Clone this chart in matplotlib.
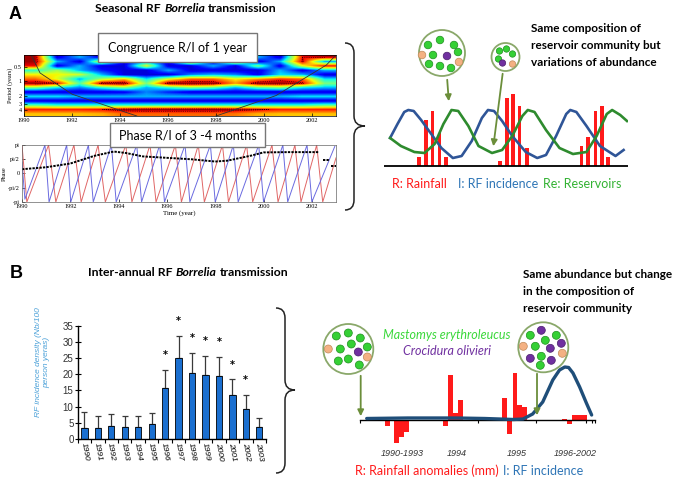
import numpy as np
import matplotlib
matplotlib.use('Agg')
import matplotlib.pyplot as plt
from matplotlib.path import Path
from matplotlib.patches import PathPatch, Circle, Rectangle, FancyArrowPatch

plt.rcParams['font.family'] = ['Lato', 'DejaVu Sans']

# ---- data (A, left): wavelet coherence, rows from short to long period
wavelet_log2_period = (-1.84, 2.43)
wavelet_power = [
    [0.97, 0.08, 0.30, 0.08, 0.62, 0.08, 0.30, 0.08, 0.30, 0.08, 0.30, 0.08, 0.90, 0.95],
    [0.97, 0.30, 0.08, 0.62, 0.08, 0.30, 0.08, 0.75, 0.08, 0.70, 0.08, 0.30, 0.92, 0.30],
    [0.90, 0.08, 0.30, 0.08, 0.08, 0.62, 0.08, 0.08, 0.30, 0.08, 0.50, 0.08, 0.62, 0.90],
    [0.40, 0.55, 0.30, 0.15, 0.08, 0.08, 0.30, 0.08, 0.08, 0.08, 0.08, 0.30, 0.08, 0.30],
    [0.65, 0.65, 0.60, 0.30, 0.08, 0.08, 0.08, 0.25, 0.30, 0.25, 0.10, 0.35, 0.30, 0.08],
    [0.80, 0.62, 0.30, 0.55, 0.70, 0.35, 0.62, 0.80, 0.80, 0.65, 0.75, 0.85, 0.80, 0.35],
    [0.98, 0.90, 0.45, 0.95, 0.97, 0.50, 0.97, 0.98, 0.97, 0.75, 0.97, 0.98, 0.92, 0.50],
    [0.50, 0.35, 0.25, 0.40, 0.50, 0.30, 0.40, 0.50, 0.45, 0.30, 0.45, 0.50, 0.35, 0.30],
    [0.08, 0.08, 0.08, 0.08, 0.10, 0.25, 0.15, 0.08, 0.08, 0.08, 0.08, 0.08, 0.08, 0.08],
    [0.35, 0.35, 0.30, 0.30, 0.30, 0.30, 0.30, 0.30, 0.30, 0.30, 0.30, 0.30, 0.35, 0.35],
    [0.08, 0.08, 0.08, 0.08, 0.08, 0.08, 0.08, 0.08, 0.08, 0.08, 0.08, 0.08, 0.08, 0.08],
    [0.45, 0.40, 0.40, 0.40, 0.40, 0.40, 0.40, 0.40, 0.40, 0.40, 0.40, 0.40, 0.40, 0.45],
    [0.88, 0.88, 0.88, 0.90, 0.95, 0.97, 0.97, 0.97, 0.97, 0.95, 0.92, 0.88, 0.88, 0.88],
    [0.70, 0.70, 0.70, 0.72, 0.80, 0.80, 0.80, 0.80, 0.80, 0.78, 0.72, 0.70, 0.70, 0.70],
]
cone_left_year = [1990.3, 1990.67, 1992.0, 1994.7]
cone_left_log2 = [-1.84, -0.58, 0.9, 2.43]
cone_right_year = [1998.0, 2000.5, 2002.6, 2003.0]
cone_right_log2 = [2.43, 1.0, -1.14, -1.84]

# phase of rainfall (red) and incidence (blue), in units of pi
red_turn_year = [1990.0, 1990.2, 1991.1, 1991.4, 1992.15, 1992.45, 1993.15, 1993.45,
                 1994.3, 1994.55, 1995.3, 1995.55, 1996.35, 1996.6, 1997.3, 1997.55,
                 1998.3, 1998.55, 1999.3, 1999.55, 2000.35, 2000.6, 2001.3, 2001.55,
                 2002.2, 2002.45, 2003.0]
red_turn_phase = [1, -1, 1, -1, 1, -1, 1, -1, 1, -1, 1, -1, 1, -1, 1, -1,
                  1, -1, 1, -1, 1, -1, 1, -1, 1, -1, 0.55]
blue_turn_year = [1990.0, 1990.12, 1990.95, 1991.12, 1991.85, 1992.02, 1992.75, 1992.95,
                  1993.7, 1993.9, 1994.75, 1994.95, 1995.7, 1995.9, 1996.75, 1996.95,
                  1997.8, 1998.0, 1998.75, 1998.95, 1999.8, 2000.0, 2000.8, 2001.0,
                  2001.8, 2002.0, 2002.95]
blue_turn_phase = [0.4, -0.9, 1, -1, 1, -1, 1, -1, 1, -1, 1, -1, 1, -1, 1, -1,
                   1, -1, 1, -1, 1, -1, 1, -1, 1, -1, 0.95]
diff_year = [1990.0, 1991.0, 1992.0, 1993.0, 1993.8, 1994.3, 1995.0, 1996.0,
             1997.0, 1998.0, 1998.5, 1999.5, 2000.0, 2001.0, 2002.3]
diff_phase = [0.15, 0.22, 0.35, 0.62, 0.77, 0.72, 0.6, 0.55, 0.5, 0.42, 0.45, 0.63,
              0.74, 0.75, 0.75]
diff_tail_year = [[2002.45, 2002.7], [2002.78, 2003.0]]
diff_tail_phase = [[0.49, 0.49], [0.28, 0.28]]

# ---- data (A, right): schematic seasonal cycle, x in months
incid_month = [0.9, 2.0, 3.0, 3.6, 4.4, 5.5, 7.0, 8.5, 10.2, 11.5, 13.0, 14.5, 15.4, 16.3,
               17.5, 19.0, 21.0, 22.7, 24.0, 25.5, 27.0, 27.6, 28.5, 30.0, 32.0, 34.3, 35.5]
incid_level = [28, 42, 54, 56, 55, 46, 32, 18, 8, 10, 25, 48, 56, 55,
               45, 30, 14, 8, 11, 30, 52, 56, 54, 40, 20, 10, 16]
reserv_month = [0.9, 2.5, 4.5, 6.0, 7.5, 8.8, 10.0, 11.0, 12.5, 14.0, 16.0, 17.5, 19.0,
                20.5, 21.3, 22.3, 24.0, 26.0, 28.0, 30.0, 31.5, 33.0, 33.8, 35.0, 36.0]
reserv_level = [28, 20, 14, 13, 22, 42, 56, 55, 40, 20, 13, 16, 30,
                50, 56, 54, 36, 18, 12, 14, 30, 52, 56, 51, 45]
rain_month = [5.2, 6.2, 7.2, 8.2, 9.2, 17.2, 18.2, 19.1, 20.1, 21.2,
              29.3, 30.2, 31.3, 32.3, 33.2]
rain_level = [9, 46, 55, 33, 9, 5, 68, 72, 60, 18, 20, 29, 55, 60, 9]

# ---- data (B, left): RF incidence density per year
years = [1990, 1991, 1992, 1993, 1994, 1995, 1996, 1997, 1998, 1999, 2000, 2001, 2002, 2003]
incidence = [3.5, 3.5, 4.0, 3.7, 3.7, 4.5, 15.7, 24.9, 20.3, 19.7, 19.5, 13.5, 9.3, 3.6]
incidence_err = [4.7, 3.7, 3.6, 3.3, 3.3, 3.5, 5.5, 7.0, 6.4, 6.0, 5.8, 4.9, 4.3, 3.0]
signif_years = [1996, 1997, 1998, 1999, 2000, 2001, 2002]

# ---- data (B, right): rainfall anomalies and incidence, x in months
anom_month = [5.7, 7.6, 8.6, 9.7, 17.8, 18.9, 19.9, 20.9, 30.2, 31.1, 32.3, 33.3, 34.3,
              42.7, 43.6, 44.7, 45.7, 46.8]
anom_value = [-6, -23, -17, -12, -6, 45, 7, 20, 22, -14, 47, 15, 13, 1, -4, 5, 5, 5]
inc2_month = [1.4, 10, 20, 26, 32, 34, 36, 38.1, 40.2, 41.6, 42.7, 43.5, 44.4, 45.8, 47.2, 48.3]
inc2_level = [1.5, 2, 2, 1.5, 0.5, 1, 6, 18, 40, 50, 53, 52.5, 47, 33, 17, 5]
period_labels = ['1990-1993', '1994', '1995', '1996-2002']
period_label_month = [8.75, 20.2, 32.7, 44.8]

RED = '#ff1a1a'
BLUE_TXT = '#2e75b6'
GREEN_TXT = '#33b233'
OLIVE = '#6b8e3a'

W, H = 680, 478
fig = plt.figure(figsize=(6.8, 4.78), dpi=100)


def px_axes(x0, y0, x1, y1):
    return fig.add_axes([x0 / W, 1 - y1 / H, (x1 - x0) / W, (y1 - y0) / H])


serif = {'family': 'Liberation Serif'}

# wavelet panel
ax_w = px_axes(24, 55, 336, 116)
power = np.array(wavelet_power)
lo, hi = wavelet_log2_period
ax_w.imshow(power, cmap='jet', aspect='auto', interpolation='bilinear',
            interpolation_stage='data', extent=[1990, 2003, hi, lo], vmin=0.0, vmax=1.0)
nr, nc = power.shape
xc = 1990 + (np.arange(nc) + 0.5) * 13 / nc
yc = lo + (np.arange(nr) + 0.5) * (hi - lo) / nr
ax_w.contour(xc, yc, power, levels=[0.9], colors='k', linewidths=0.5, linestyles=':')
ax_w.plot(cone_left_year, cone_left_log2, color='#333333', lw=0.6)
ax_w.plot(cone_right_year, cone_right_log2, color='#333333', lw=0.6)
ax_w.set_xlim(1990, 2003)
ax_w.set_ylim(hi, lo)
ax_w.set_xticks([1990, 1992, 1994, 1996, 1998, 2000, 2002])
ax_w.set_yticks([-1, 0, 1, np.log2(3), 2])
ax_w.set_yticklabels(['0.5', '1', '2', '3', '4'])
ax_w.tick_params(labelsize=4.5, length=2, direction='in', pad=1.5, width=0.5)
for lab in ax_w.get_xticklabels() + ax_w.get_yticklabels():
    lab.set_fontfamily('Liberation Serif')
ax_w.set_ylabel('Period (years)', fontsize=4.5, labelpad=1, **serif)
for s in ax_w.spines.values():
    s.set_linewidth(0.5)

# phase panel
ax_p = px_axes(22, 145, 336, 202)
ax_p.plot(red_turn_year, np.array(red_turn_phase) * np.pi, color='#e06666', lw=0.7)
ax_p.plot(blue_turn_year, np.array(blue_turn_phase) * np.pi, color='#6a6ae0', lw=0.7)
ax_p.plot(diff_year, np.array(diff_phase) * np.pi, color='black', lw=1.4, ls=(0, (1.2, 0.6)))
for ty, tp in zip(diff_tail_year, diff_tail_phase):
    ax_p.plot(ty, np.array(tp) * np.pi, color='black', lw=1.4, ls=(0, (1.2, 0.6)))
ax_p.set_xlim(1990, 2003)
ax_p.set_ylim(-np.pi, np.pi)
ax_p.set_xticks([1990, 1992, 1994, 1996, 1998, 2000, 2002])
ax_p.set_yticks([-np.pi, -np.pi / 2, 0, np.pi / 2, np.pi])
ax_p.set_yticklabels(['-pi', '-pi/2', '0', 'pi/2', 'pi'])
ax_p.tick_params(labelsize=4.5, length=2, direction='in', pad=1.5, width=0.5)
for lab in ax_p.get_xticklabels() + ax_p.get_yticklabels():
    lab.set_fontfamily('Liberation Serif')
ax_p.set_ylabel('Phase', fontsize=4.5, labelpad=1, **serif)
ax_p.set_xlabel('Time (year)', fontsize=5, labelpad=1, **serif)
for s in ax_p.spines.values():
    s.set_linewidth(0.5)
    s.set_color('#666666')

# seasonal schematic
ax_r = px_axes(384, 91, 628, 170)
ax_r.bar(rain_month, rain_level, width=0.5, color=RED, zorder=1)
ax_r.plot(incid_month, incid_level, color='#2f5597', lw=1.9, zorder=2)
ax_r.plot(reserv_month, reserv_level, color='#2e8b2e', lw=1.9, zorder=3)
ax_r.axhline(0, color='black', lw=1.3)
ax_r.set_xlim(0, 36.15)
ax_r.set_ylim(-4, 75)
ax_r.axis('off')

# inter-annual bars
ax_b = px_axes(77.7, 325.7, 266, 439)
ax_b.bar(years, incidence, width=0.47, color='#1a6fd0', edgecolor='black', lw=0.6, zorder=2)
ax_b.errorbar(years, incidence, yerr=[np.zeros(len(years)), incidence_err], fmt='none',
              ecolor='#3a3a3a', elinewidth=0.9, capsize=2.5, capthick=0.9, zorder=1)
tops = {y: v + e for y, v, e in zip(years, incidence, incidence_err)}
for y in signif_years:
    ax_b.text(y, tops[y] + 4.6, '*', ha='center', va='center', fontsize=7,
              fontweight='bold', clip_on=False, family='DejaVu Sans')
ax_b.set_xlim(1989.5, 2003.5)
ax_b.set_ylim(0, 35)
ax_b.set_yticks(range(0, 36, 5))
ax_b.set_xticks(years)
ax_b.set_xticks(np.arange(1989.5, 2004, 1.0), minor=True)
ax_b.set_xticklabels([str(y) for y in years], rotation=-80, ha='center', va='top',
                     fontsize=6, fontstyle='italic', family='Liberation Sans')
ax_b.tick_params(axis='x', which='major', length=0, pad=2)
ax_b.tick_params(axis='x', which='minor', length=3, direction='out', width=0.8)
ax_b.tick_params(axis='y', length=4, direction='inout', width=0.8, labelsize=7, pad=1,
                 labelcolor='#333333')
for lab in ax_b.get_yticklabels():
    lab.set_fontfamily('Liberation Sans')
for side in ('top', 'right'):
    ax_b.spines[side].set_visible(False)
for side in ('left', 'bottom'):
    ax_b.spines[side].set_linewidth(1.0)

# inter-annual schematic
ax_s = px_axes(360, 360, 595, 445)
ax_s.bar(anom_month, anom_value, width=1.0, color=RED, zorder=1)
ax_s.plot(inc2_month, inc2_level, color='#1f4e79', lw=2.4, zorder=3, solid_capstyle='round')
ax_s.set_xlim(0, 49)
ax_s.set_ylim(-25, 60)
for side in ('top', 'right', 'left'):
    ax_s.spines[side].set_visible(False)
ax_s.spines['bottom'].set_position(('data', 0))
ax_s.spines['bottom'].set_linewidth(1.0)
ax_s.spines['bottom'].set_zorder(2)
ax_s.set_yticks([])
ax_s.set_xticks([0, 24.6, 36.8, 47.2, 48.3, 49])
ax_s.set_xticklabels([])
ax_s.tick_params(axis='x', length=2.5, direction='out', width=0.8)
ax_s.patch.set_alpha(0)
for m, lab in zip(period_label_month, period_labels):
    ax_s.text(m, -33, lab, ha='center', va='center', fontsize=6.5, fontstyle='italic',
              color='#333333', family='Liberation Sans', clip_on=False)

# overlay for annotations, in pixel units
over = fig.add_axes([0, 0, 1, 1])
over.set_xlim(0, W)
over.set_ylim(H, 0)
over.axis('off')
over.patch.set_alpha(0)
renderer = fig.canvas.get_renderer()


def rich_title(xc, y, parts, size):
    texts = [over.text(0, y, s, fontsize=size, fontweight='bold', fontstyle=st,
                       ha='left', va='center') for s, st in parts]
    gap = size * 100 / 72 * 0.27
    widths = [t.get_window_extent(renderer).width for t in texts]
    x = xc - (sum(widths) + gap * (len(texts) - 1)) / 2
    for t, w in zip(texts, widths):
        t.set_x(x)
        x += w + gap


def brace(x_end, x_spine, x_tip, y_top, y_mid, y_bot, r=10):
    verts = [(x_end, y_top), (x_spine, y_top), (x_spine, y_top + r),
             (x_spine, y_mid - r), (x_spine, y_mid), (x_tip, y_mid),
             (x_spine, y_mid), (x_spine, y_mid + r),
             (x_spine, y_bot - r), (x_spine, y_bot), (x_end, y_bot)]
    codes = [Path.MOVETO, Path.CURVE3, Path.CURVE3, Path.LINETO, Path.CURVE3, Path.CURVE3,
             Path.CURVE3, Path.CURVE3, Path.LINETO, Path.CURVE3, Path.CURVE3]
    over.add_patch(PathPatch(Path(verts, codes), fc='none', ec='#222222', lw=1.1))


DOT = {'g': ('#35d035', '#1f8f1f'), 'p': ('#7030a0', '#4a1f6b'), 'o': ('#f4b183', '#c08a5a')}


def community(cx, cy, r, dots, dr):
    over.add_patch(Circle((cx, cy), r, fc='white', ec='#8aa86a', lw=1.3, zorder=5))
    for dx, dy, k in dots:
        fc, ec = DOT[k]
        over.add_patch(Circle((cx + dx, cy + dy), dr, fc=fc, ec=ec, lw=0.5, zorder=6))


def arrow(x0, y0, x1, y1):
    over.add_patch(FancyArrowPatch((x0, y0), (x1, y1), arrowstyle='-|>', mutation_scale=9,
                                   color=OLIVE, lw=1.3, zorder=4))


# panel letters and titles
over.text(9, 14, 'A', fontsize=13, fontweight='bold', family='Liberation Sans', va='center')
over.text(10, 274, 'B', fontsize=13, fontweight='bold', family='Liberation Sans', va='center')
rich_title(186, 8, [('Seasonal RF', 'normal'), ('Borrelia', 'italic'),
                    ('transmission', 'normal')], 8.8)
rich_title(188, 272, [('Inter-annual RF', 'normal'), ('Borrelia', 'italic'),
                      ('transmission', 'normal')], 8.8)

# label boxes on panel A
over.add_patch(Rectangle((98, 33), 159, 29, fc='white', ec='#777777', lw=1.0, zorder=7))
over.text(177.5, 47.5, 'Congruence R/I of 1 year', fontsize=9, ha='center', va='center', zorder=8)
over.add_patch(Rectangle((110, 123), 155, 24, fc='white', ec='#777777', lw=1.0, zorder=7))
over.text(187.5, 135, 'Phase R/I of 3 -4 months', fontsize=9, ha='center', va='center', zorder=8)

brace(345, 354, 365, 43, 126, 210)
brace(276, 285, 295, 308, 390, 473)

# seasonal communities
community(442, 53, 23, [(-14, -8, 'g'), (-2, -13, 'g'), (12, -8, 'g'), (-9, 2, 'g'),
                        (16, -1, 'g'), (-13, 11, 'g'), (-2, 13, 'g'), (9, 15, 'g'),
                        (5, 3, 'p'), (-20, 2, 'o'), (17, 9, 'o')], 3.8)
community(505.5, 57, 14, [(-6, -6, 'g'), (1, -8, 'g'), (7, -3, 'g'), (-7, 2, 'g'),
                          (-3, 6, 'p'), (7, 7, 'o')], 3.2)
arrow(447, 77, 449, 104)
arrow(503, 71, 493, 149)

notes_a = ['Same composition of', 'reservoir community but', 'variations of abundance']
for i, line in enumerate(notes_a):
    over.text(531, 28 + i * 17.3, line, fontsize=8.5, fontweight='bold', va='center')
over.text(392, 184, 'R: Rainfall', fontsize=9, color=RED, va='center')
over.text(458, 184, 'I: RF incidence', fontsize=9, color=BLUE_TXT, va='center')
over.text(543, 184, 'Re: Reservoirs', fontsize=9, color=GREEN_TXT, va='center')

# inter-annual communities
community(348.3, 349, 25, [(-12, -13, 'g'), (0, -16, 'g'), (12, -11, 'g'), (-8, 0, 'g'),
                           (3, -5, 'g'), (19, -2, 'g'), (-10, 12, 'g'), (0, 10, 'g'),
                           (11, 16, 'g'), (10, 3, 'p'), (-20, 0, 'o'), (19, 8, 'o')], 4)
community(543.3, 347.3, 25, [(-2, -17, 'p'), (-13, -12, 'g'), (13, -12, 'g'), (2, -7, 'g'),
                             (18, -4, 'p'), (-20, -1, 'o'), (-8, -1, 'g'), (7, 1, 'p'),
                             (19, 6, 'o'), (-13, 11, 'p'), (-2, 9, 'g'), (8, 13, 'p'),
                             (-3, 18, 'g')], 4)
arrow(360.7, 373, 360.7, 419)
arrow(537, 371, 537, 418)
over.text(447, 335, 'Mastomys erythroleucus', fontsize=9, fontstyle='italic',
          color='#3ad83a', ha='center', va='center')
over.text(447, 351, 'Crocidura olivieri', fontsize=9, fontstyle='italic',
          color='#7030a0', ha='center', va='center')

notes_b = ['Same abundance but change', 'in the composition of', 'reservoir community']
for i, line in enumerate(notes_b):
    over.text(523, 274 + i * 17.5, line, fontsize=8.5, fontweight='bold', va='center')

# y label of the bar chart
over.text(43, 362, 'RF incidence density (Nb/100\nperson yeras)', rotation=90,
          fontsize=6, fontstyle='italic', color='#4aa0d8', ha='center', va='center',
          multialignment='center', family='Liberation Sans')

over.text(355, 471, 'R: Rainfall anomalies (mm)', fontsize=9, color=RED, va='center')
over.text(503, 471, 'I: RF incidence', fontsize=9, color=BLUE_TXT, va='center')

fig.savefig('out.png', dpi=100)
